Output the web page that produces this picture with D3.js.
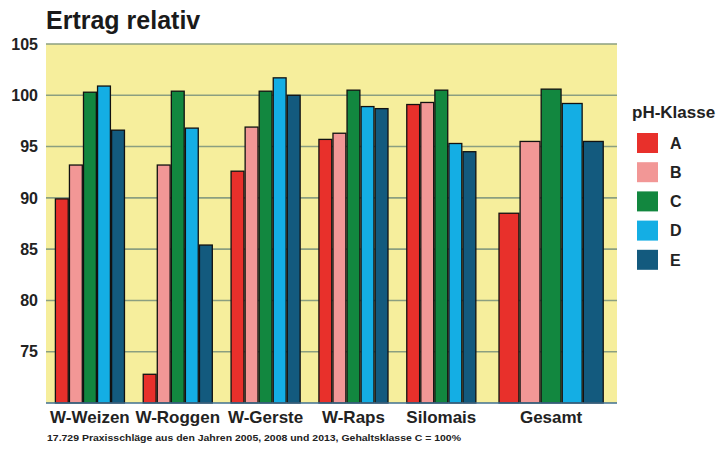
<!DOCTYPE html>
<html>
<head>
<meta charset="utf-8">
<script src="https://cdn.jsdelivr.net/npm/d3@7"></script>
<style>
  html, body { margin: 0; padding: 0; background: #fff; }
  svg { display: block; font-family: "Liberation Sans", Arial, Helvetica, sans-serif; }
</style>
</head>
<body>
<svg id="chart" width="718" height="456"></svg>
<script>
// Relative yield per crop and pH class (class C = 100 %)
const categories = ["W-Weizen", "W-Roggen", "W-Gerste", "W-Raps", "Silomais", "Gesamt"];
const classes = ["A", "B", "C", "D", "E"];
const valuesA = [89.9, 72.8, 92.6, 95.7, 99.1, 88.5];
const valuesB = [93.2, 93.2, 96.9, 96.3, 99.3, 95.5];
const valuesC = [100.3, 100.4, 100.4, 100.5, 100.5, 100.6];
const valuesD = [100.9, 96.8, 101.7, 98.9, 95.3, 99.2];
const valuesE = [96.6, 85.4, 100.0, 98.7, 94.5, 95.5];
const yTicks = [75, 80, 85, 90, 95, 100, 105];

const series = [valuesA, valuesB, valuesC, valuesD, valuesE];
const colors = ["#e8302b", "#f29796", "#12873f", "#14aee4", "#135a7e"];

const svg = d3.select("#chart");
const plot = { left: 46, right: 617, top: 44, bottom: 403 };

// y scale: 70..105
const y = d3.scaleLinear().domain([70, 105]).range([plot.bottom, plot.top]);

// The total group gets a wider slot than the single crops
const weights = categories.map(c => c === "Gesamt" ? 1.5 : 1);
const cum = [0];
weights.forEach((w, i) => cum.push(cum[i] + w));
const xUnits = d3.scaleLinear().domain([0, cum[cum.length - 1]]).range([plot.left, plot.right]);
const groupFill = 0.8;

const colorScale = d3.scaleOrdinal().domain(classes).range(colors);

// plot background
svg.append("rect")
  .attr("x", plot.left).attr("y", plot.top)
  .attr("width", plot.right - plot.left).attr("height", plot.bottom - plot.top)
  .attr("fill", "#f6ee9c");

// horizontal grid
svg.append("g")
  .selectAll("line")
  .data(yTicks)
  .join("line")
  .attr("x1", plot.left).attr("x2", plot.right)
  .attr("y1", d => y(d)).attr("y2", d => y(d))
  .attr("stroke", "#8b9f80").attr("stroke-width", 1.6);

// y axis labels
svg.append("g")
  .selectAll("text")
  .data(yTicks)
  .join("text")
  .attr("x", 38).attr("y", d => y(d))
  .attr("dy", "0.36em")
  .attr("text-anchor", "end")
  .attr("font-size", 16).attr("font-weight", "bold")
  .attr("fill", "#222")
  .text(d => d);

// bars
categories.forEach((cat, gi) => {
  const x0 = xUnits(cum[gi]);
  const x1 = xUnits(cum[gi + 1]);
  const slot = x1 - x0;
  const inner = d3.scaleBand()
    .domain(classes)
    .range([x0 + slot * (1 - groupFill) / 2, x1 - slot * (1 - groupFill) / 2])
    .padding(0);
  const g = svg.append("g");
  g.selectAll("rect")
    .data(classes.map((k, si) => ({ k, v: series[si][gi] })))
    .join("rect")
    .attr("x", d => inner(d.k) + 0.6)
    .attr("width", inner.bandwidth() - 1.2)
    .attr("y", d => y(d.v))
    .attr("height", d => y(70) - y(d.v))
    .attr("fill", d => colorScale(d.k))
    .attr("stroke", "#111").attr("stroke-width", 1.3);

  svg.append("text")
    .attr("x", (x0 + x1) / 2).attr("y", 423)
    .attr("text-anchor", "middle")
    .attr("font-size", 17).attr("font-weight", "bold")
    .attr("fill", "#222")
    .text(cat);
});

// baseline
svg.append("line")
  .attr("x1", plot.left).attr("x2", plot.right)
  .attr("y1", y(70)).attr("y2", y(70))
  .attr("stroke", "#3f6f90").attr("stroke-width", 1.6);

// title
svg.append("text")
  .attr("x", 46).attr("y", 29)
  .attr("font-size", 25).attr("font-weight", "bold")
  .attr("fill", "#1a1a1a")
  .text("Ertrag relativ");

// legend
const legend = svg.append("g");
legend.append("text")
  .attr("x", 632).attr("y", 118)
  .attr("font-size", 17).attr("font-weight", "bold")
  .attr("fill", "#222")
  .text("pH-Klasse");
const item = legend.selectAll("g.item")
  .data(classes)
  .join("g")
  .attr("class", "item")
  .attr("transform", (d, i) => `translate(637, ${133 + i * 29.2})`);
item.append("rect")
  .attr("width", 21).attr("height", 20)
  .attr("fill", d => colorScale(d));
item.append("text")
  .attr("x", 33).attr("y", 10).attr("dy", "0.36em")
  .attr("font-size", 16).attr("font-weight", "bold")
  .attr("fill", "#222")
  .text(d => d);

// footnote (wide, small print)
svg.append("text")
  .attr("x", 47).attr("y", 441)
  .attr("font-size", 9.6).attr("font-weight", "bold")
  .attr("fill", "#222")
  .attr("textLength", 414).attr("lengthAdjust", "spacingAndGlyphs")
  .text("17.729 Praxisschläge aus den Jahren 2005, 2008 und 2013, Gehaltsklasse C = 100%");
</script>
</body>
</html>
